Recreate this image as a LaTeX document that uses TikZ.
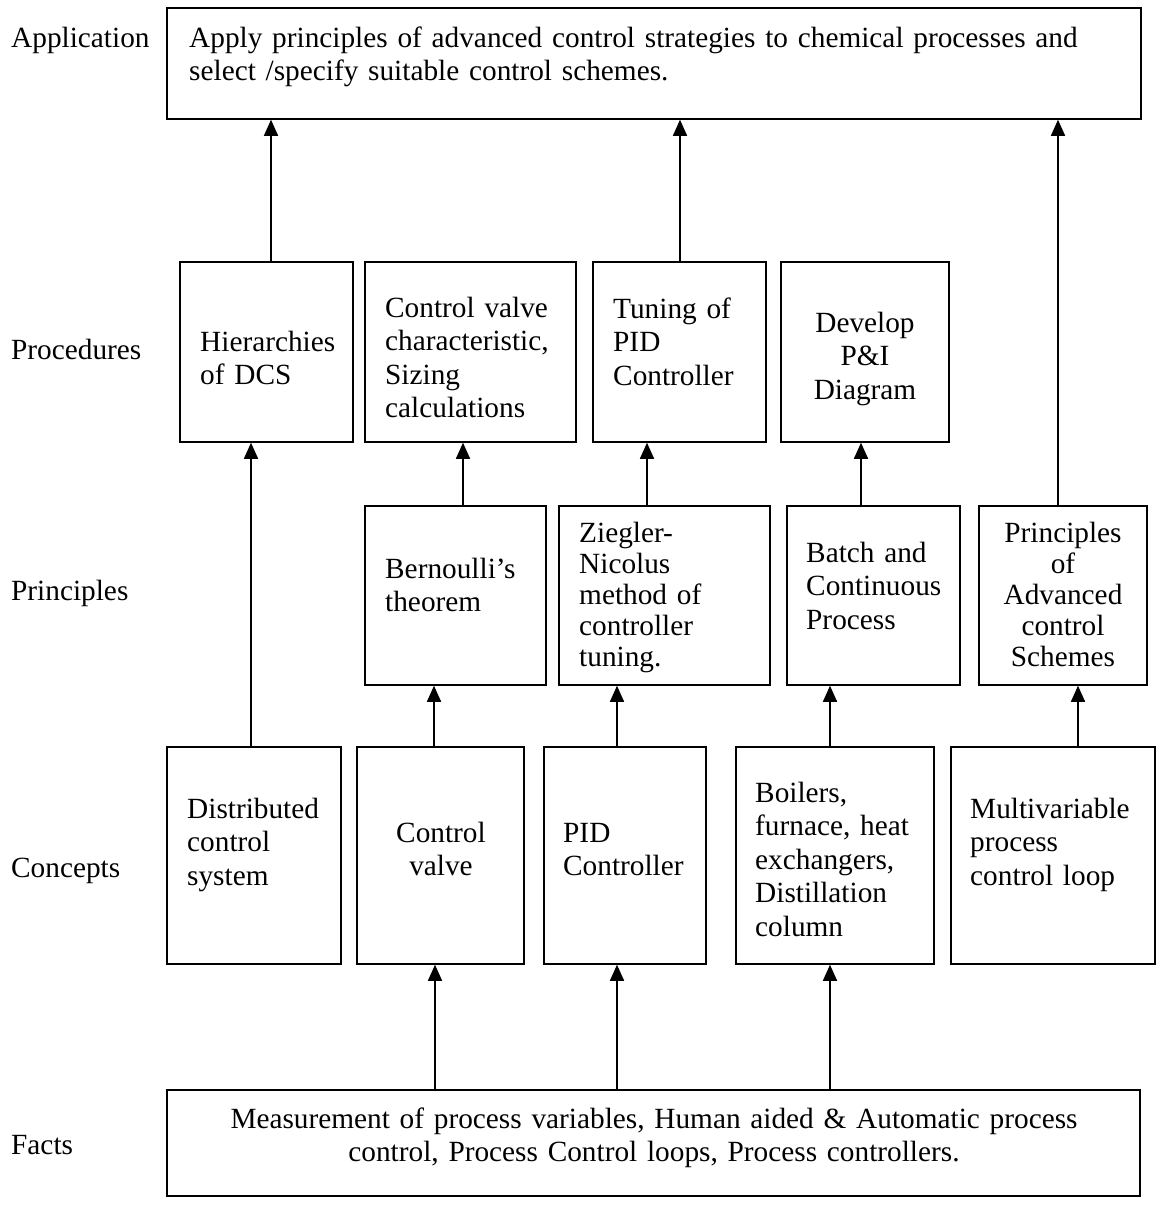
\documentclass[tikz,border=0pt]{standalone}
\usepackage{fontspec}
\setmainfont{Liberation Serif}
\usetikzlibrary{fit,arrows.meta}
\tikzset{
  box/.style={draw, line width=1.5pt, inner sep=0pt, rectangle},
  txt/.style={inner sep=0pt, font=\fontsize{29.3}{33.5}\selectfont, text width=#1},
  txt/.default=300pt,
  tight/.style={font=\fontsize{29.3}{31.2}\selectfont},
  lab/.style={inner sep=0pt, anchor=base west, font=\fontsize{29.3}{33.5}\selectfont},
  arr/.style={line width=1.5pt, -{Triangle[width=14pt,length=16pt]}}
}
\begin{document}
\begin{tikzpicture}[x=1pt,y=-1pt]
\useasboundingbox[fill=white] (0,0) rectangle (1159,1205);
% row labels
\node[lab] (lapp) at (11,47) {Application};
\node[lab] (lproc) at (11,359) {Procedures};
\node[lab] (lprin) at (11,600) {Principles};
\node[lab] (lconc) at (11,877) {Concepts};
\node[lab] (lfact) at (11,1154) {Facts};
% application
\node[box, fit={(167,8) (1141,119)}] (app) {};
\node[txt=950pt, align=left, anchor=base west] (tapp) at (189,47) {Apply principles of advanced control strategies to chemical processes and\\select /specify suitable control schemes.};
% procedures
\node[box, fit={(180,262) (353,442)}] (hier) {};
\node[txt, align=left, anchor=base west] (thier) at (200,351) {Hierarchies\\of DCS};
\node[box, fit={(365,262) (576,442)}] (cvc) {};
\node[txt, align=left, anchor=base west] (tcvc) at (385,317) {Control valve\\characteristic,\\Sizing\\calculations};
\node[box, fit={(593,262) (766,442)}] (tune) {};
\node[txt, align=left, anchor=base west] (ttune) at (613,318) {Tuning of\\PID\\Controller};
\node[box, fit={(781,262) (949,442)}] (dev) {};
\node[txt=160pt, align=center, anchor=base] (tdev) at (865,332) {Develop\\P\&I\\Diagram};
% principles
\node[box, fit={(365,506) (546,685)}] (bern) {};
\node[txt, align=left, anchor=base west] (tbern) at (385,578) {Bernoulli’s\\theorem};
\node[box, fit={(559,506) (770,685)}] (zieg) {};
\node[txt, tight, align=left, anchor=base west] (tzieg) at (579,542) {Ziegler-\\Nicolus\\method of\\controller\\tuning.};
\node[box, fit={(787,506) (960,685)}] (batch) {};
\node[txt, align=left, anchor=base west] (tbatch) at (806,562) {Batch and\\Continuous\\Process};
\node[box, fit={(979,506) (1147,685)}] (padv) {};
\node[txt=160pt, tight, align=center, anchor=base] (tpadv) at (1063,542) {Principles\\of\\Advanced\\control\\Schemes};
% concepts
\node[box, fit={(167,747) (341,964)}] (dist) {};
\node[txt, align=left, anchor=base west] (tdist) at (187,818) {Distributed\\control\\system};
\node[box, fit={(357,747) (524,964)}] (cv) {};
\node[txt=160pt, align=center, anchor=base] (tcv) at (441,842) {Control\\valve};
\node[box, fit={(544,747) (706,964)}] (pid) {};
\node[txt, align=left, anchor=base west] (tpid) at (563,842) {PID\\Controller};
\node[box, fit={(736,747) (934,964)}] (boil) {};
\node[txt, align=left, anchor=base west] (tboil) at (755,802) {Boilers,\\furnace, heat\\exchangers,\\Distillation\\column};
\node[box, fit={(951,747) (1155,964)}] (multi) {};
\node[txt, align=left, anchor=base west] (tmulti) at (970,818) {Multivariable\\process\\control loop};
% facts
\node[box, fit={(167,1090) (1140,1196)}] (facts) {};
\node[txt=980pt, align=center, anchor=base] (tfacts) at (654,1128) {Measurement of process variables, Human aided \& Automatic process\\control, Process Control loops, Process controllers.};
% connectors
\draw[arr] (hier.north -| 271,0) -- (app.south -| 271,0);
\draw[arr] (tune.north -| 680,0) -- (app.south -| 680,0);
\draw[arr] (padv.north -| 1058,0) -- (app.south -| 1058,0);
\draw[arr] (dist.north -| 251,0) -- (hier.south -| 251,0);
\draw[arr] (bern.north -| 463,0) -- (cvc.south -| 463,0);
\draw[arr] (zieg.north -| 647,0) -- (tune.south -| 647,0);
\draw[arr] (batch.north -| 861,0) -- (dev.south -| 861,0);
\draw[arr] (cv.north -| 434,0) -- (bern.south -| 434,0);
\draw[arr] (pid.north -| 617,0) -- (zieg.south -| 617,0);
\draw[arr] (boil.north -| 830,0) -- (batch.south -| 830,0);
\draw[arr] (multi.north -| 1078,0) -- (padv.south -| 1078,0);
\draw[arr] (facts.north -| 435,0) -- (cv.south -| 435,0);
\draw[arr] (facts.north -| 617,0) -- (pid.south -| 617,0);
\draw[arr] (facts.north -| 830,0) -- (boil.south -| 830,0);
\end{tikzpicture}
\end{document}
